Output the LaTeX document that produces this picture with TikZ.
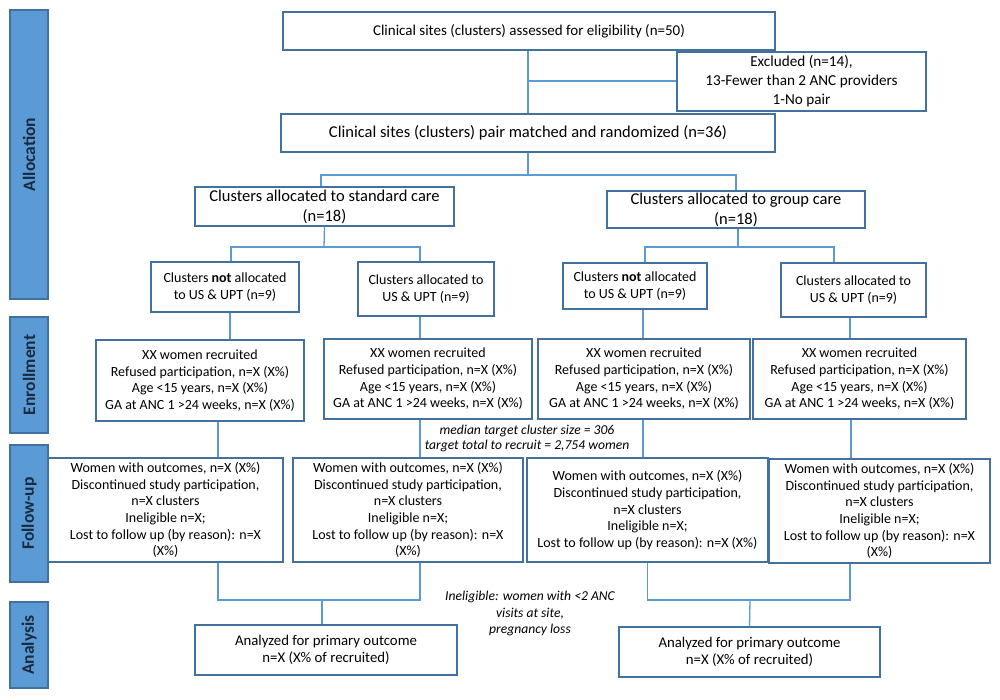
\documentclass[tikz,border=0pt]{standalone}
\usepackage{fontspec}
\setmainfont{Carlito}
\definecolor{barf}{HTML}{5B9BD5}
\definecolor{barb}{HTML}{41719C}
\definecolor{bordc}{HTML}{41719C}
\definecolor{linec}{HTML}{5B9BD5}
\definecolor{bartext}{HTML}{1A2A40}
\begin{document}
\begin{tikzpicture}[x=1pt,y=-1pt,
  box/.style={draw=bordc, line width=1.3pt, fill=white, align=center, inner sep=0pt},
  fs/.style={font=\fontsize{14}{16.8}\selectfont},
  fm/.style={font=\fontsize{14}{16.6}\selectfont},
  fl/.style={font=\fontsize{16.5}{20}\selectfont},
  bar/.style={draw=barb, fill=barf, line width=1.3pt, rotate=90, minimum height=38pt, inner sep=0pt, text=bartext, font=\bfseries\fontsize{17.5}{19}\selectfont},
  conn/.style={draw=linec, line width=1.3pt},
  note/.style={font=\itshape\fontsize{13.6}{16.5}\selectfont, align=center}]
\useasboundingbox (0,0) rectangle (1000,699);

% side bars
\node[bar, minimum width=289pt] (barA) at (29,154.5) {Allocation};
\node[bar, minimum width=116pt] (barE) at (29,375) {Enrollment};
\node[bar, minimum width=137pt] (barF) at (29,513.5) {Follow-up};
\node[bar, minimum width=86pt] (barN) at (29,645) {Analysis};

% top
\node[box, font=\fontsize{15}{18}\selectfont, minimum width=492pt, minimum height=38pt] (top) at (529,31) {Clinical sites (clusters) assessed for eligibility (n=50)};
\node[box, font=\fontsize{15.2}{19}\selectfont, minimum width=249pt, minimum height=59pt] (excl) at (801.5,81.5) {Excluded (n=14),\\13-Fewer than 2 ANC providers\\1-No pair};
\node[box, fl, minimum width=494pt, minimum height=38pt] (rand) at (528,133) {Clinical sites (clusters) pair matched and randomized (n=36)};

% allocation
\node[box, fl, minimum width=259pt, minimum height=39pt] (std) at (324.5,206.5) {Clusters allocated to standard care\\(n=18)};
\node[box, fl, minimum width=258pt, minimum height=37pt] (grp) at (736,209.5) {Clusters allocated to group care\\(n=18)};

% sub-allocation
\node[box, fs, minimum width=148pt, minimum height=50pt] (sn) at (225,287) {Clusters \textbf{not} allocated\\to US \& UPT (n=9)};
\node[box, fs, minimum width=136pt, minimum height=54pt] (sa) at (426,289) {Clusters allocated to\\US \& UPT (n=9)};
\node[box, fs, minimum width=144pt, minimum height=46pt] (gn) at (635,286) {Clusters \textbf{not} allocated\\to US \& UPT (n=9)};
\node[box, fs, minimum width=145pt, minimum height=54pt] (ga) at (853.5,290) {Clusters allocated to\\US \& UPT (n=9)};

% enrollment
\node[box, fm, minimum width=208pt, minimum height=81pt] (e1) at (200,380.5) {XX women recruited\\Refused participation, n=X (X\%)\\Age <15 years, n=X (X\%)\\GA at ANC 1 >24 weeks, n=X (X\%)};
\node[box, fm, minimum width=208pt, minimum height=80pt] (e2) at (428,379) {XX women recruited\\Refused participation, n=X (X\%)\\Age <15 years, n=X (X\%)\\GA at ANC 1 >24 weeks, n=X (X\%)};
\node[box, fm, minimum width=212pt, minimum height=80pt] (e3) at (644,379) {XX women recruited\\Refused participation, n=X (X\%)\\Age <15 years, n=X (X\%)\\GA at ANC 1 >24 weeks, n=X (X\%)};
\node[box, fm, minimum width=213pt, minimum height=80pt] (e4) at (859.5,379) {XX women recruited\\Refused participation, n=X (X\%)\\Age <15 years, n=X (X\%)\\GA at ANC 1 >24 weeks, n=X (X\%)};

% follow-up
\node[box, fm, minimum width=235pt, minimum height=104pt] (f1) at (165.5,510) {Women with outcomes, n=X (X\%)\\Discontinued study participation,\\n=X clusters\\Ineligible n=X;\\Lost to follow up (by reason): n=X\\(X\%)};
\node[box, fm, minimum width=230pt, minimum height=104pt] (f2) at (408,510) {Women with outcomes, n=X (X\%)\\Discontinued study participation,\\n=X clusters\\Ineligible n=X;\\Lost to follow up (by reason): n=X\\(X\%)};
\node[box, fm, minimum width=241pt, minimum height=104pt] (f3) at (647.5,510) {Women with outcomes, n=X (X\%)\\Discontinued study participation,\\n=X clusters\\Ineligible n=X;\\Lost to follow up (by reason): n=X (X\%)};
\node[box, fm, minimum width=221pt, minimum height=104pt] (f4) at (879.5,511) {Women with outcomes, n=X (X\%)\\Discontinued study participation,\\n=X clusters\\Ineligible n=X;\\Lost to follow up (by reason): n=X\\(X\%)};

% analysis
\node[box, font=\fontsize{14.8}{17}\selectfont, minimum width=262pt, minimum height=50pt] (a1) at (326,650) {Analyzed for primary outcome\\n=X (X\% of recruited)};
\node[box, font=\fontsize{14.8}{17}\selectfont, minimum width=261pt, minimum height=50pt] (a2) at (749.5,652) {Analyzed for primary outcome\\n=X (X\% of recruited)};

% notes
\node[note, font=\itshape\fontsize{13.6}{15.5}\selectfont] (n1) at (527,438.5) {median target cluster size = 306\\target total to recruit = 2,754 women};
\node[note] (n2) at (530,613.5) {Ineligible: women with <2 ANC\\visits at site,\\pregnancy loss};

% connectors
\coordinate (j1) at (528,81);
\draw[conn] (rand.north |- top.south) -- (rand.north);
\draw[conn] (j1) -- (excl.west |- j1);
\coordinate (r1) at (528,175);
\draw[conn] (rand.south) -- (r1);
\draw[conn] ([xshift=-3.5pt]std.north) |- (r1) -| (grp.north);

\coordinate (s1) at (324,247);
\draw[conn] (std.south) -- (s1);
\draw[conn] ([xshift=6pt]sn.north) |- (s1) -| ([xshift=-6pt]sa.north);
\coordinate (g1) at (738,247);
\draw[conn] ([xshift=2pt]grp.south) -- (g1);
\draw[conn] ([xshift=10pt]gn.north) |- (g1) -| ([xshift=-19.5pt]ga.north);

\draw[conn] ([xshift=5pt]sn.south) -- ([xshift=5pt]sn.south |- e1.north);
\draw[conn] ([xshift=-6pt]sa.south) -- ([xshift=-6pt]sa.south |- e2.north);
\draw[conn] ([xshift=8pt]gn.south) -- ([xshift=8pt]gn.south |- e3.north);
\draw[conn] ([xshift=-3.5pt]ga.south) -- ([xshift=-3.5pt]ga.south |- e4.north);

\draw[conn] ([xshift=18pt]e1.south) -- ([xshift=18pt]e1.south |- f1.north);
\draw[conn] ([xshift=-8pt]e2.south) -- ([xshift=-8pt]e2.south |- f2.north);
\draw[conn] ([xshift=-1pt]e3.south) -- ([xshift=-1pt]e3.south |- f3.north);
\draw[conn] ([xshift=-8.5pt]e4.south) -- ([xshift=-8.5pt]e4.south |- f4.north);

\coordinate (k1) at (322,600);
\draw[conn] ([xshift=52.5pt]f1.south) |- (k1) -| ([xshift=12pt]f2.south);
\draw[conn] (k1) -- ([xshift=-4pt]a1.north);
\coordinate (k2) at (750,600);
\draw[conn] (f3.south) |- (k2) -| ([xshift=-29.5pt]f4.south);
\draw[conn] (k2) -- (a2.north);
\end{tikzpicture}
\end{document}
